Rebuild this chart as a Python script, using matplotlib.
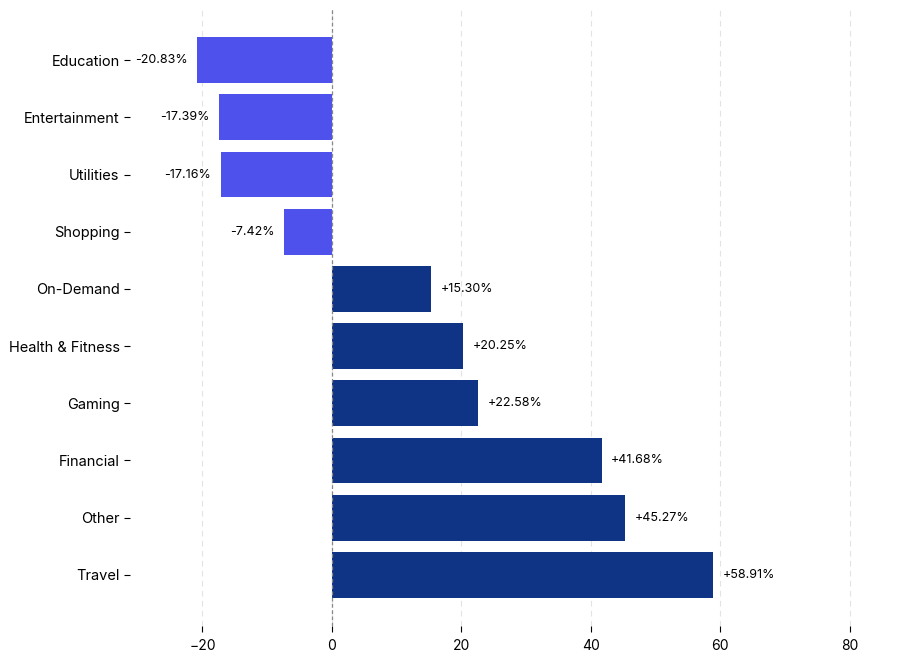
import matplotlib
matplotlib.use("Agg")
import matplotlib.pyplot as plt

categories = ["Education", "Entertainment", "Utilities", "Shopping", "On-Demand",
              "Health & Fitness", "Gaming", "Financial", "Other", "Travel"]
values = [-20.83, -17.39, -17.16, -7.42, 15.30, 20.25, 22.58, 41.68, 45.27, 58.91]
xticks = [-20, 0, 20, 40, 60, 80]

plt.rcParams["font.family"] = ["Inter", "DejaVu Sans"]

fig = plt.figure(figsize=(9.14, 6.58), dpi=100)
ax = fig.add_axes([0.1422, 0.049, 0.851, 0.937])

neg_color = "#4F51EC"
pos_color = "#0F3385"
colors = [neg_color if v < 0 else pos_color for v in values]
y = list(range(len(categories)))
ax.barh(y, values, height=0.8, color=colors, zorder=2)
ax.invert_yaxis()
ax.set_yticks(y)
ax.set_yticklabels(categories, fontsize=10.5)
ax.set_xticks(xticks)
ax.set_xticklabels([f"{t}" if t >= 0 else f"\u2212{abs(t)}" for t in xticks], fontsize=10)
ax.set_xlim(-31.2, 89)
ax.grid(axis="x", linestyle=(0, (5, 4)), color="#e3e3e3", linewidth=0.8, zorder=0)
ax.axvline(0, color="#888888", linestyle=(0, (3, 2)), linewidth=0.9, zorder=3)
for s in ax.spines.values():
    s.set_visible(False)
ax.tick_params(axis="y", length=4.5, width=0.8, pad=3)
ax.tick_params(axis="x", length=4.5, width=0.8, pad=5)

for yi, v in zip(y, values):
    if v >= 0:
        ax.text(v + 1.5, yi, f"+{v:.2f}%", va="center", ha="left", fontsize=9)
    else:
        ax.text(v - 1.5, yi, f"{v:.2f}%", va="center", ha="right", fontsize=9)

fig.savefig("out.png", dpi=100)
